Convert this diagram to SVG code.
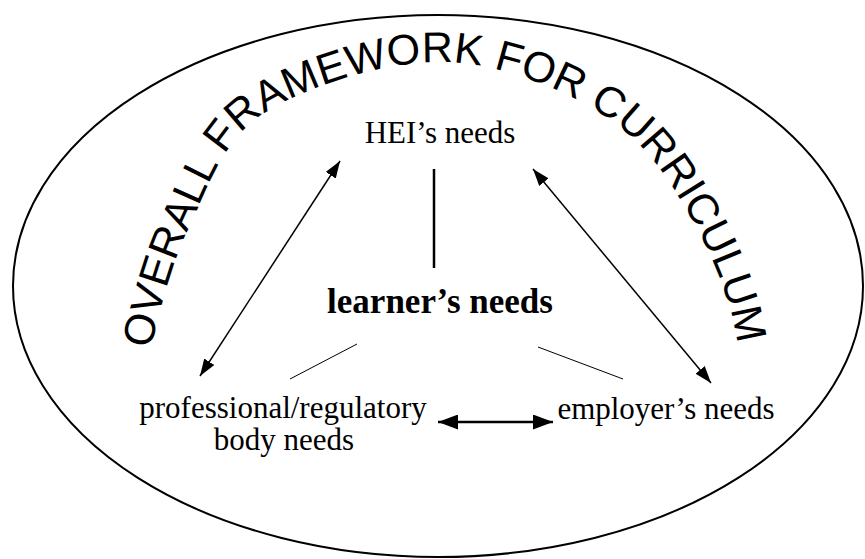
<svg xmlns="http://www.w3.org/2000/svg" width="865" height="559" viewBox="0 0 865 559">
  <style>
    .lbl { font-family: "Liberation Serif", "Times New Roman", serif; font-size: 31px; fill: #000; text-anchor: middle; }
    .bold { font-weight: bold; font-size: 35px; }
    .title { font-family: "Liberation Sans", Arial, sans-serif; font-size: 43px; fill: #000; }
    .frame { fill: none; stroke: #000; stroke-width: 2; }
    .arr { stroke: #000; stroke-width: 1.5; fill: none; }
    .thin { stroke: #000; stroke-width: 1; fill: none; }
    .thick { stroke: #000; stroke-width: 2.5; fill: none; }
  </style>
  <defs>
    <marker id="ah" markerUnits="userSpaceOnUse" markerWidth="18" markerHeight="12" refX="17" refY="6" orient="auto-start-reverse">
      <path d="M0,0 L17,6 L0,12 z" fill="#000"/>
    </marker>
    <marker id="ahb" markerUnits="userSpaceOnUse" markerWidth="21" markerHeight="15" refX="20" refY="7.5" orient="auto-start-reverse">
      <path d="M0,0 L20,7.5 L0,15 z" fill="#000"/>
    </marker>
    <path id="arc" d="M150,352 C160,310 171,265 190,225 C209,185 223,140 265,113 C307,86 384,62 440,62 C496,62 558,87 600,113 C642,139 667,176 690,216 C713,256 735,309 738,352"/>
  </defs>
  <rect width="865" height="559" fill="#fff"/>
  <g id="framework">
    <ellipse class="frame" cx="438" cy="286" rx="425" ry="271"/>
    <text class="title"><textPath href="#arc" startOffset="3">OVERALL FRAMEWORK FOR CURRICULUM</textPath></text>
  </g>
  <g id="connectors">
    <line class="thick" x1="434" y1="169" x2="434" y2="268"/>
    <line class="arr" x1="340" y1="161" x2="200" y2="376" marker-start="url(#ah)" marker-end="url(#ah)"/>
    <line class="arr" x1="533" y1="169" x2="711" y2="383" marker-start="url(#ah)" marker-end="url(#ah)"/>
    <line class="thin" x1="357" y1="344" x2="290" y2="379"/>
    <line class="thin" x1="538" y1="347" x2="623" y2="379"/>
    <line class="thick" x1="438" y1="422" x2="553" y2="422" marker-start="url(#ahb)" marker-end="url(#ahb)"/>
  </g>
  <g id="hei">
    <text class="lbl" x="440" y="143">HEI’s needs</text>
  </g>
  <g id="learner">
    <text class="lbl bold" x="440" y="313">learner’s needs</text>
  </g>
  <g id="professional">
    <text class="lbl" x="283" y="418">professional/regulatory</text>
    <text class="lbl" x="284" y="450">body needs</text>
  </g>
  <g id="employer">
    <text class="lbl" x="666" y="419">employer’s needs</text>
  </g>
</svg>
